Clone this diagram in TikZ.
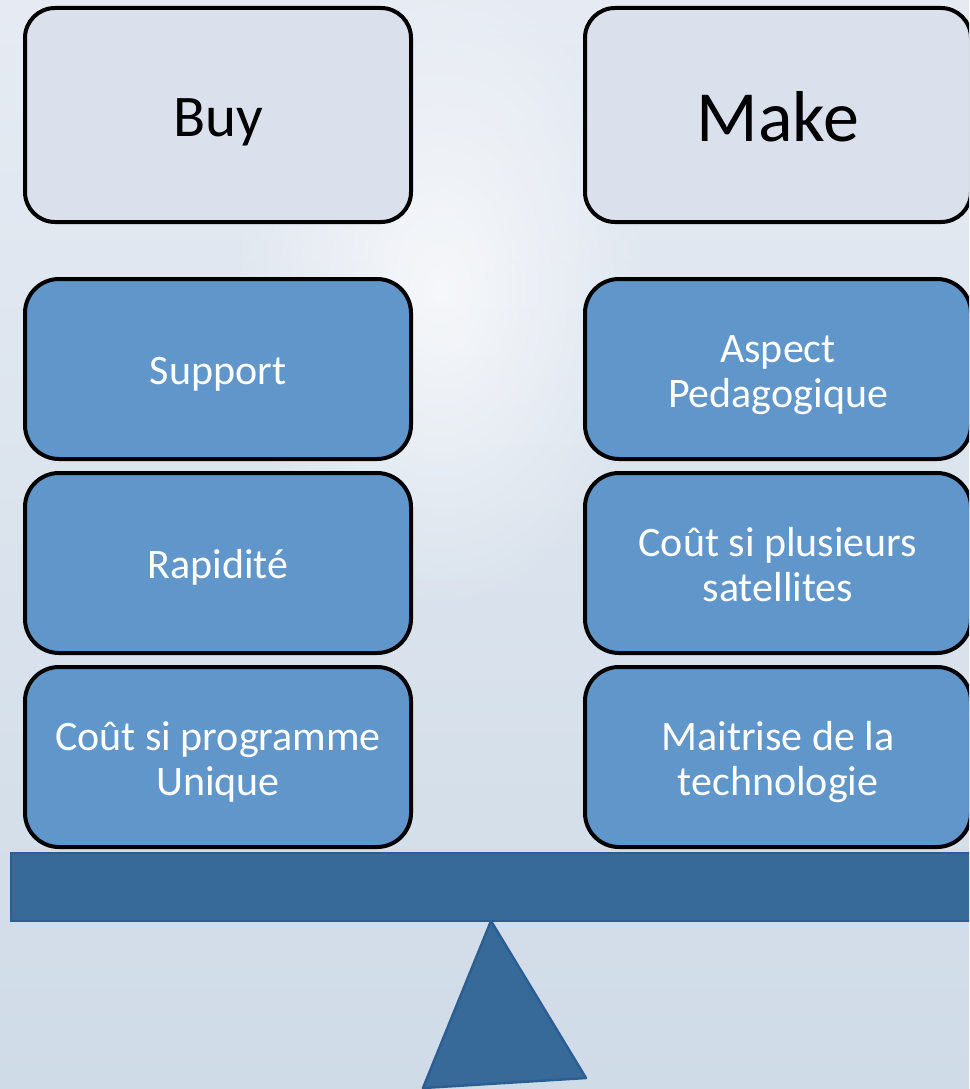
\documentclass[tikz,border=0pt]{standalone}
\usepackage{fontspec}
\setmainfont{Carlito}
\usepackage{xcolor}
\usepackage{tikz}
\usetikzlibrary{positioning,fadings}
\definecolor{headfill}{HTML}{DAE0EC}
\definecolor{argfill}{HTML}{6096C9}
\definecolor{beamfill}{HTML}{376A99}
\definecolor{beamline}{HTML}{2B5F93}
\definecolor{skytop}{HTML}{E6EBF3}
\definecolor{skybot}{HTML}{CFDBE7}
\tikzfading[name=glow, inner color=transparent!0, outer color=transparent!100]
% struts so every label sits on the same baseline grid
\tikzset{boxtext/.style={text width=370pt,align=flush center,
    execute at begin node={\rule{0pt}{1em}},
    execute at end node={\rule[-.26em]{0pt}{0pt}}}}
\tikzset{head/.style={draw,line width=4pt,rounded corners=30pt,fill=headfill,
    minimum width=386pt,minimum height=214pt,boxtext}}
\tikzstyle{arg}=[draw, line width=4pt, rounded corners=34pt, fill=argfill, text=white,
    minimum width=386pt, minimum height=180pt, boxtext,
    font=\fontsize{42}{45}\selectfont]
\tikzstyle{beam}=[draw=beamline, line width=2.5pt, fill=beamfill]

\begin{document}
\begin{tikzpicture}[x=1pt,y=-1pt,node distance=194pt]
    \useasboundingbox (0,0) rectangle (969,1089);
    \clip (0,0) rectangle (969,1089);
    % sky behind the scale
    \shade[top color=skytop, bottom color=skybot] (0,0) rectangle (969,1089);
    \fill[white, path fading=glow, opacity=.7] (440,290) ellipse (210 and 320);

    \node [head,font=\fontsize{59}{62}\selectfont] (buy) at (218,115) {Buy};
    \node [head,font=\fontsize{72}{75}\selectfont] (make) at (778,115) {Make};

    \node [arg] (sup) [below of=buy,node distance=254pt] {Support};
    \node [arg] (rap) [below of=sup] {Rapidité};
    \node [arg] (cpu) [below of=rap] {Coût si programme\\Unique};

    \node [arg] (asp) [below of=make,node distance=254pt] {Aspect\\Pedagogique};
    \node [arg] (cps) [below of=asp] {Coût si plusieurs\\satellites};
    \node [arg] (mai) [below of=cps] {Maitrise de la\\technologie};

    % the balance
    \node [beam,minimum width=964pt,minimum height=68pt,inner sep=0pt] (bar) at (493,887) {};
    \coordinate (pivot) at (491,921);
    \coordinate (footl) at (423,1088);
    \coordinate (footr) at (586,1078);
    \draw [beam,line join=round] (pivot) -- (footr) -- (footl) -- cycle;
\end{tikzpicture}
\end{document}
